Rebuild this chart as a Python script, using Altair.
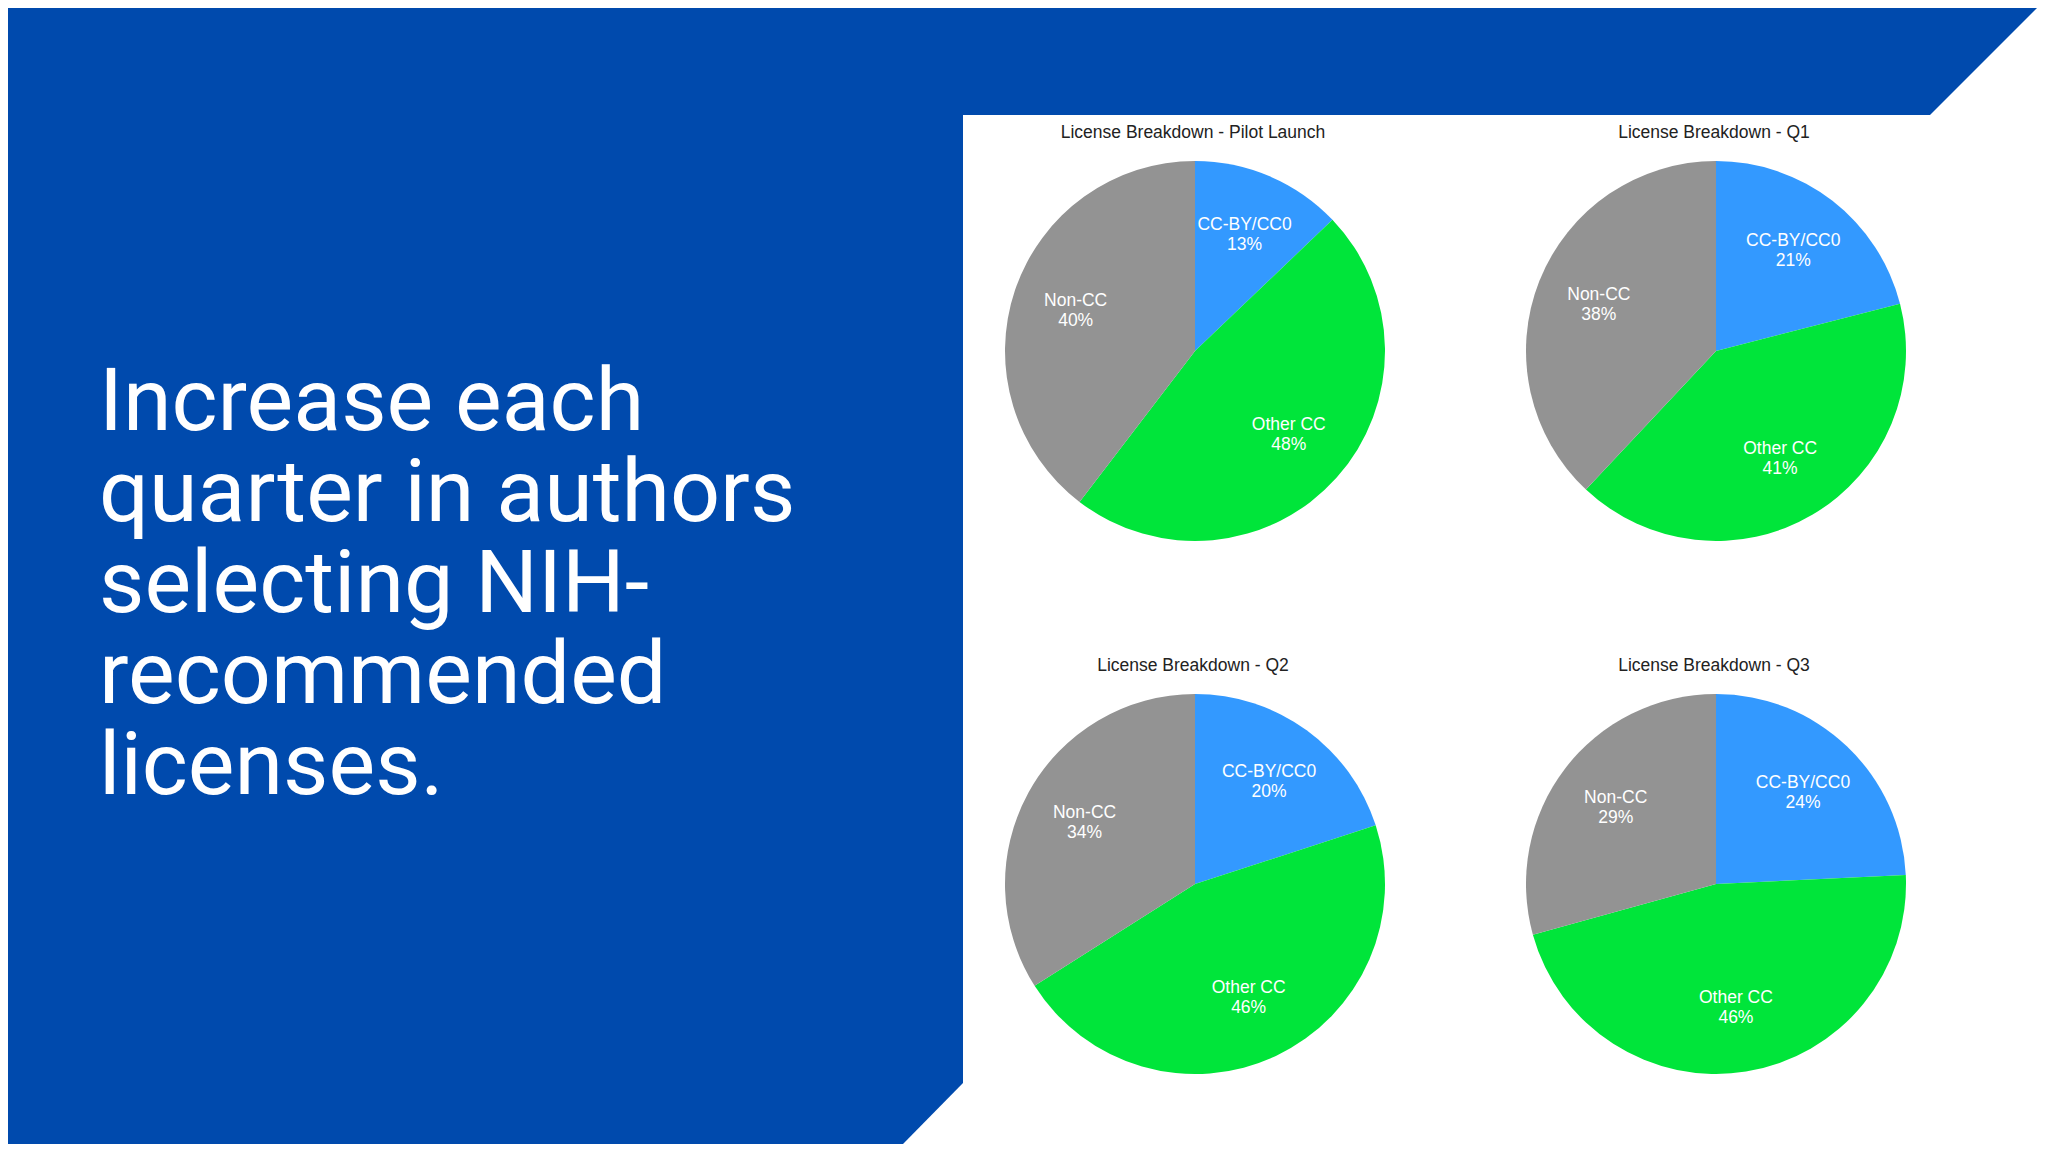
import altair as alt
import pandas as pd

# ---------------- data ----------------
CATEGORIES = ["CC-BY/CC0", "Other CC", "Non-CC"]
PILOT = [13, 48, 40]
Q1 = [21, 41, 38]
Q2 = [20, 46, 34]
Q3 = [24, 46, 29]
SERIES = [PILOT, Q1, Q2, Q3]
TITLES = [
    "License Breakdown - Pilot Launch",
    "License Breakdown - Q1",
    "License Breakdown - Q2",
    "License Breakdown - Q3",
]
HEADLINE = [
    "Increase each",
    "quarter in authors",
    "selecting NIH-",
    "recommended",
    "licenses.",
]

# ---------------- styles / layout ----------------
W, H = 2032, 1136
SLIDE_BLUE = "#004AAD"
COLORS = ["#3399FF", "#00E53A", "#939393"]
PIE_CENTERS = [(1187, 343), (1708, 343), (1187, 876), (1708, 876)]
RADIUS = 190
LABEL_R = 126
TITLE_DY = -218

# slide decoration outline (blue band on top, blue block on the left)
TOP_X = [0, 1922, 2029]
TOP_Y2 = [107, 107, 0]
LEFT_X = [0, 895, 955]
LEFT_Y2 = [1136, 1136, 1075]

xscale = alt.Scale(domain=[0, W], nice=False, zero=False)
yscale = alt.Scale(domain=[0, H], nice=False, zero=False, reverse=True)


def band(xs, y2s):
    df = pd.DataFrame({"x": xs, "y0": [0] * len(xs), "y1": y2s})
    return alt.Chart(df).mark_area(color=SLIDE_BLUE, interpolate="linear").encode(
        x=alt.X("x:Q", scale=xscale, axis=None),
        y=alt.Y("y0:Q", scale=yscale, axis=None),
        y2="y1:Q",
    )


layers = [band(TOP_X, TOP_Y2), band(LEFT_X, LEFT_Y2)]

one = pd.DataFrame({"k": [0]})

layers.append(
    alt.Chart(one).mark_text(
        font="Roboto", fontWeight=400, fontSize=88, lineHeight=91,
        align="left", baseline="alphabetic", color="white",
    ).encode(text=alt.value(HEADLINE), x=alt.value(91), y=alt.value(422))
)

for i, (vals, title) in enumerate(zip(SERIES, TITLES)):
    cx, cy = PIE_CENTERS[i]
    df = pd.DataFrame({"category": CATEGORIES, "value": vals, "idx": list(range(len(vals)))})
    df["label"] = df["category"] + "\n" + df["value"].astype(str) + "%"
    base = alt.Chart(df).encode(
        theta=alt.Theta("value:Q", stack="normalize"),
        order=alt.Order("idx:Q"),
    )
    arc = base.mark_arc(outerRadius=RADIUS).encode(
        color=alt.Color("category:N", scale=alt.Scale(domain=CATEGORIES, range=COLORS), legend=None),
        x=alt.value(cx),
        y=alt.value(cy),
    )
    lbl = base.mark_text(
        radius=LABEL_R, font="Liberation Sans", fontSize=17.5, color="white",
        lineBreak="\n", lineHeight=20, align="center", baseline="middle", dy=-10,
    ).encode(
        text="label:N",
        detail="category:N",
        x=alt.value(cx),
        y=alt.value(cy),
    )
    ttl = alt.Chart(one).mark_text(
        font="Liberation Sans", fontSize=17.5, color="#222222",
        align="center", baseline="middle",
    ).encode(text=alt.value(title), x=alt.value(cx - 2), y=alt.value(cy + TITLE_DY))
    layers += [arc, lbl, ttl]

chart = alt.layer(*layers).properties(
    width=W, height=H, padding=0, autosize="none", background="white"
).configure_view(stroke=None)

chart.save("out.html", embed_options={"renderer": "svg", "actions": False})
